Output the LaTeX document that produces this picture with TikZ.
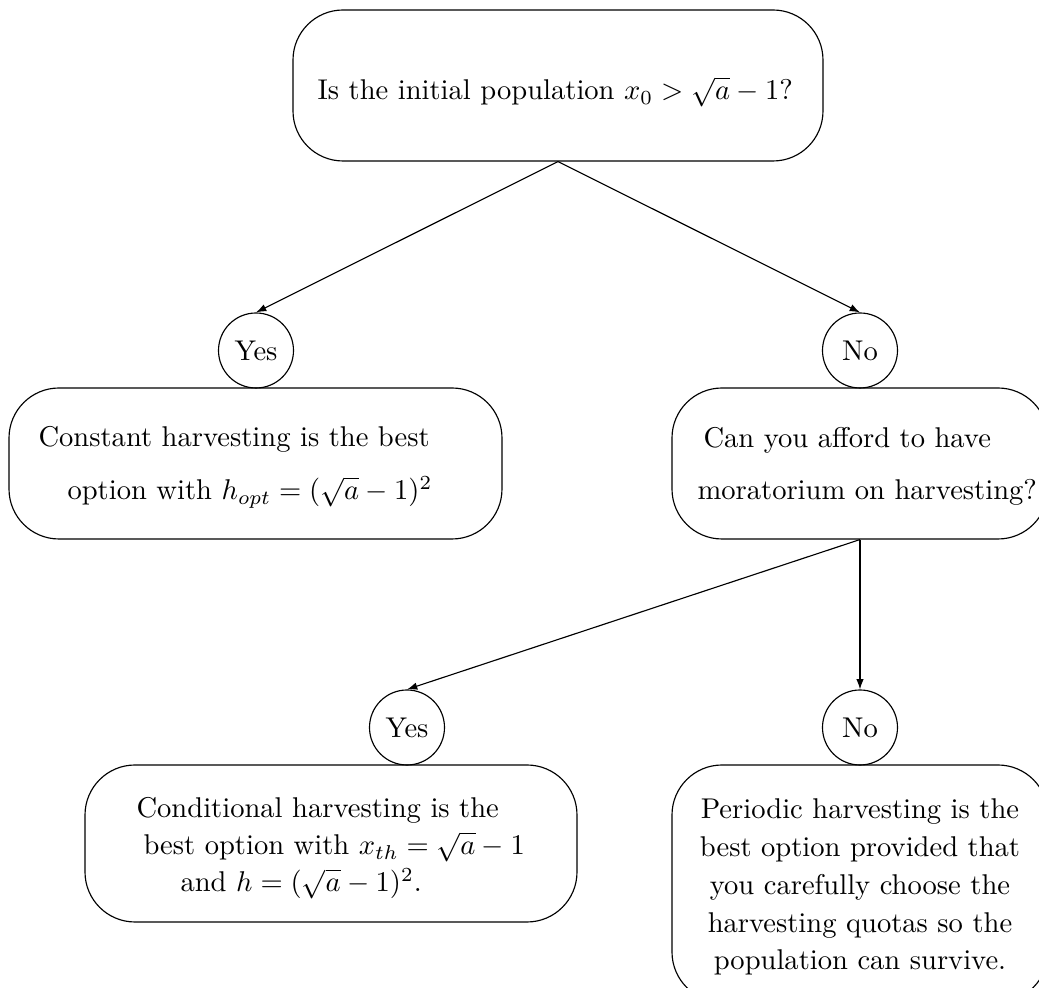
\documentclass[tikz,border=0pt]{standalone}
\usetikzlibrary{arrows.meta}
\begin{document}
\begin{tikzpicture}[x=0.35pt,y=-0.35pt,
  box/.style={draw, rounded corners=17.5pt, line width=0.4pt, inner sep=0pt},
  ans/.style={draw, circle, minimum size=26.25pt, inner sep=0pt, line width=0.4pt},
  txt/.style={inner sep=0pt, anchor=base west, align=left},
  ctxt/.style={inner sep=0pt, anchor=base, align=center},
  arr/.style={-{Latex[length=3.6pt,width=2.6pt]}, line width=0.4pt}]
\useasboundingbox (0,0) rectangle (1039,988);
\clip (0,0) rectangle (1039,988);
% boxes
\node[box, minimum width=185.5pt, minimum height=52.85pt] (q1) at (558,85.5) {};
\node[box, minimum width=172.55pt, minimum height=52.85pt] (c1) at (255.5,463.5) {};
\node[box, minimum width=131.6pt, minimum height=52.85pt] (q2) at (860,463.5) {};
\node[box, minimum width=172.2pt, minimum height=54.95pt] (c2) at (331,843.5) {};
\node[box, minimum width=131.6pt, minimum height=82.95pt] (c3) at (860,883.5) {};
% answer circles
\node[ans] (y1) at (256,350.5) {Yes};
\node[ans] (n1) at (860,350.5) {No};
\node[ans] (y2) at (407,727.5) {Yes};
\node[ans] (n2) at (860,727.5) {No};
% texts (base anchor = baseline of the last line)
\node[txt] (q1t) at (317,100) {Is the initial population $x_0>\sqrt{a}-1$?};
\node[txt, font={\fontsize{10pt}{18.55pt}\selectfont}] (c1t) at (38,500)
  {Constant harvesting is the best\\\hspace*{10.15pt}option with $h_{opt}=(\sqrt{a}-1)^2$};
\node[txt, font={\fontsize{10pt}{18.2pt}\selectfont}] (q2t) at (697,500)
  {\hspace*{2.1pt}Can you afford to have\\moratorium on harvesting?};
\node[txt, font={\fontsize{10pt}{12.95pt}\selectfont}] (c2t) at (136,892)
  {Conditional harvesting is the\\\hspace*{2.45pt}best option with $x_{th}=\sqrt{a}-1$\\\hspace*{15.4pt}and $h=(\sqrt{a}-1)^2$.};
\node[ctxt, font={\fontsize{10pt}{13.25pt}\selectfont}] (c3t) at (860,970)
  {Periodic harvesting is the\\best option provided that\\you carefully choose the\\harvesting quotas so the\\population can survive.};
% connectors
\draw[arr] (q1.south) -- (y1.north);
\draw[arr] (q1.south) -- (n1.north);
\draw[arr] (q2.south) -- (y2.north);
\draw[arr] (q2.south) -- (n2.north);
\end{tikzpicture}
\end{document}
